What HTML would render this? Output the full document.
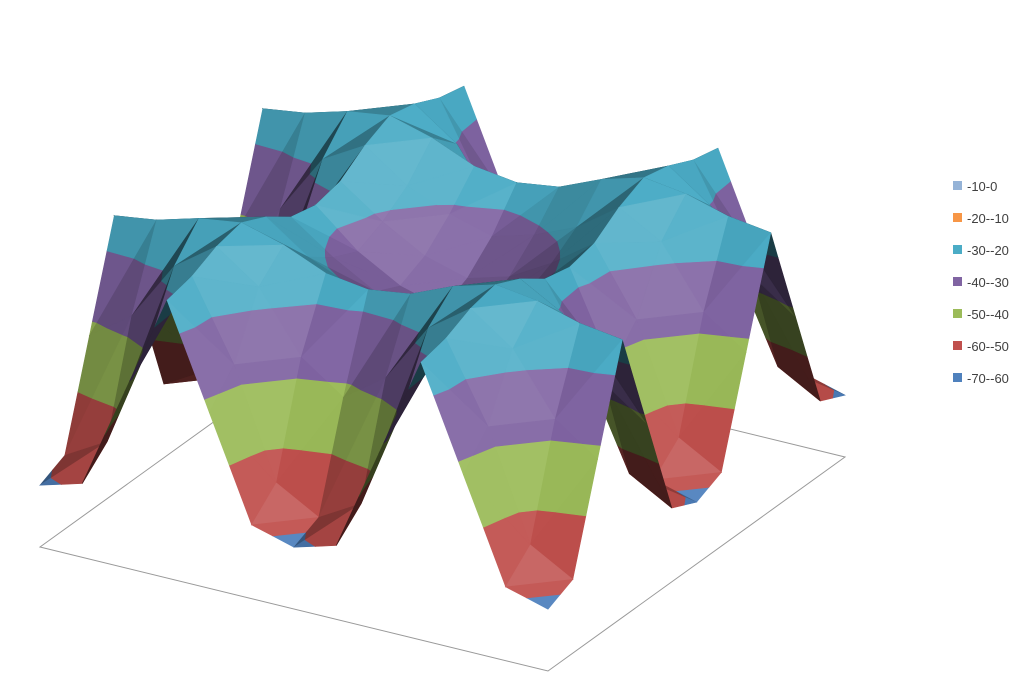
<!DOCTYPE html>
<html><head><meta charset="utf-8"><style>
html,body{margin:0;padding:0;background:#fff;}
svg{display:block;font-family:"Liberation Sans",sans-serif;}
</style></head><body>
<svg id="chart" width="1026" height="680" viewBox="0 0 1026 680">
<rect width="1026" height="680" fill="#fff"/>
<g id="floor"></g>
<g id="surface"></g>
<g id="legend"></g>
</svg>
<script>
const zRows = [
[-61,-59,-42,-25,-42,-59,-61,-59,-42,-25,-42,-59,-61],
[-59,-55,-37,-24,-37,-55,-59,-55,-37,-24,-37,-55,-59],
[-42,-37,-27,-22,-27,-37,-42,-37,-27,-22,-27,-37,-42],
[-25,-24,-22,-21,-23,-26,-27,-26,-23,-21,-22,-24,-25],
[-42,-37,-27,-23,-28,-31,-33,-31,-28,-23,-27,-37,-42],
[-59,-55,-37,-26,-31,-35,-37,-35,-31,-26,-37,-55,-59],
[-61,-59,-42,-27,-33,-37,-39,-37,-33,-27,-42,-59,-61],
[-59,-55,-37,-26,-31,-35,-37,-35,-31,-26,-37,-55,-59],
[-42,-37,-27,-23,-28,-31,-33,-31,-28,-23,-27,-37,-42],
[-25,-24,-22,-21,-23,-26,-27,-26,-23,-21,-22,-24,-25],
[-42,-37,-27,-22,-27,-37,-42,-37,-27,-22,-27,-37,-42],
[-59,-55,-37,-24,-37,-55,-59,-55,-37,-24,-37,-55,-59],
[-61,-59,-42,-25,-42,-59,-61,-59,-42,-25,-42,-59,-61]
];
const bandLo = [-80,-60,-50,-40,-30,-20,-10];
const bandHi = [-60,-50,-40,-30,-20,-10,0];
const bandLabels = ["-70--60","-60--50","-50--40","-40--30","-30--20","-20--10","-10-0"];
const bandColors = ["#4F81BD","#C0504D","#9BBB59","#8064A2","#4BACC6","#F79646","#95B3D7"];

const NS="http://www.w3.org/2000/svg";
const ZMIN=-71.3, KZ=6.0;
function px(u,v,z){return [40+u*508+v*297, 547+u*124-v*214-(z-ZMIN)*KZ];}
function hex(c){return [parseInt(c.substr(1,2),16),parseInt(c.substr(3,2),16),parseInt(c.substr(5,2),16)];}
function shadeCol(c,s){const r=hex(c);return 'rgb('+r.map(x=>{let y=s<=1?x*s:x+(255-x)*(s-1);return Math.max(0,Math.min(255,Math.round(y)));}).join(',')+')';}

const floorG=document.getElementById('floor');
const fp=[px(0,0,ZMIN),px(1,0,ZMIN),px(1,1,ZMIN),px(0,1,ZMIN)];
const fl=document.createElementNS(NS,'polygon');
fl.setAttribute('points',fp.map(p=>p.join(',')).join(' '));
fl.setAttribute('fill','none');fl.setAttribute('stroke','#999');fl.setAttribute('stroke-width','1');


floorG.appendChild(fl);

function clip(poly,val,keepAbove){
  const out=[];
  for(let k=0;k<poly.length;k++){
    const a=poly[k],b=poly[(k+1)%poly.length];
    const ina=keepAbove?a.z>=val:a.z<=val, inb=keepAbove?b.z>=val:b.z<=val;
    if(ina)out.push(a);
    if(ina!==inb){const t=(val-a.z)/(b.z-a.z);out.push({u:a.u+t*(b.u-a.u),v:a.v+t*(b.v-a.v),z:val});}
  }
  return out;
}
const N=zRows.length-1;
const tris=[];
for(let j=0;j<N;j++)for(let i=0;i<N;i++){
  const P=(ii,jj)=>({u:ii/N,v:jj/N,z:zRows[jj][ii]});
  const A=P(i,j),B=P(i+1,j),C=P(i+1,j+1),D=P(i,j+1);
  tris.push([A,B,C],[A,C,D]);
}
tris.forEach(t=>{t.d=(t[0].u+t[1].u+t[2].u)/3-(t[0].v+t[1].v+t[2].v)/3;});
tris.sort((a,b)=>a.d-b.d);
const L=[0.6,-0.45,0.66];const ln=Math.hypot(...L);L[0]/=ln;L[1]/=ln;L[2]/=ln;
const sg=document.getElementById('surface');
tris.forEach(t=>{
  const w=p=>[p.u,p.v,p.z*0.0115];
  const a=w(t[0]),b=w(t[1]),c=w(t[2]);
  const e1=[b[0]-a[0],b[1]-a[1],b[2]-a[2]],e2=[c[0]-a[0],c[1]-a[1],c[2]-a[2]];
  let n=[e1[1]*e2[2]-e1[2]*e2[1],e1[2]*e2[0]-e1[0]*e2[2],e1[0]*e2[1]-e1[1]*e2[0]];
  if(n[2]<0)n=n.map(x=>-x);
  const nl=Math.hypot(...n);n=n.map(x=>x/nl);
  const dt=n[0]*L[0]+n[1]*L[1]+n[2]*L[2];
  const s=0.35+0.8*Math.max(0,dt);
  for(let k=0;k<bandLo.length;k++){
    let poly=clip(t,bandLo[k],true);
    if(poly.length<3)continue;
    poly=clip(poly,bandHi[k],false);
    if(poly.length<3)continue;
    const pg=document.createElementNS(NS,'polygon');
    pg.setAttribute('points',poly.map(p=>px(p.u,p.v,p.z).map(x=>x.toFixed(1)).join(',')).join(' '));
    const col=shadeCol(bandColors[k],s);
    pg.setAttribute('fill',col);pg.setAttribute('stroke',col);pg.setAttribute('stroke-width','0.6');
    
    
    sg.appendChild(pg);
  }
});
const lg=document.getElementById('legend');
for(let r=0;r<bandLabels.length;r++){
  const k=bandLabels.length-1-r;const y=186+r*32;
  const g=document.createElementNS(NS,'g');
  
  
  const sq=document.createElementNS(NS,'rect');
  sq.setAttribute('x',953);sq.setAttribute('y',y-5);sq.setAttribute('width',9);sq.setAttribute('height',9);
  sq.setAttribute('fill',bandColors[k]);
  
  
  const tx=document.createElementNS(NS,'text');
  tx.setAttribute('x',967);tx.setAttribute('y',y+5);tx.setAttribute('font-size','13');tx.setAttribute('fill','#404040');
  tx.textContent=bandLabels[k];
  
  
  g.appendChild(sq);g.appendChild(tx);lg.appendChild(g);
}
</script>
</body></html>
